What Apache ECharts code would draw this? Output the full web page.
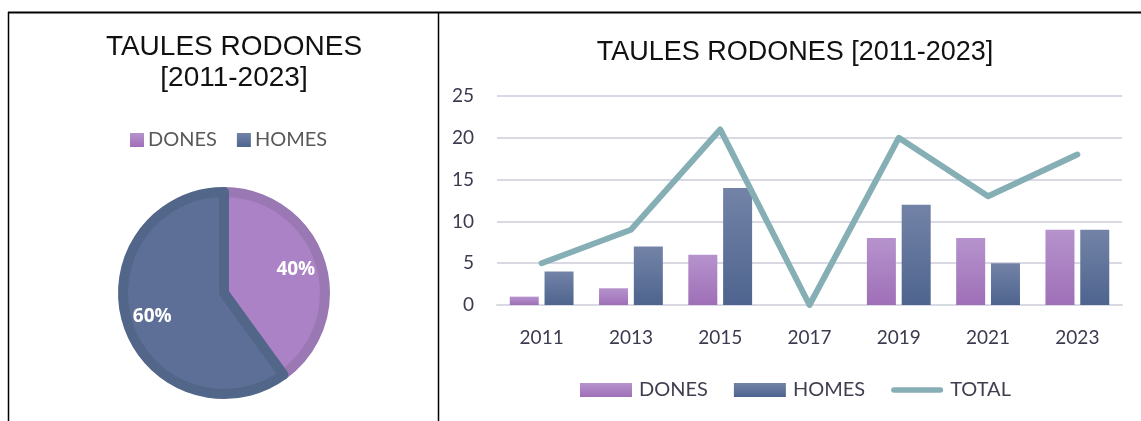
<!DOCTYPE html>
<html>
<head>
<meta charset="utf-8">
<script src="https://cdn.jsdelivr.net/npm/echarts@6/dist/echarts.min.js"></script>
<style>
html,body{margin:0;padding:0;background:#fff;}
#c{width:1141px;height:421px;}
</style>
</head>
<body>
<div id="c"></div>
<script>
const years = ['2011', '2013', '2015', '2017', '2019', '2021', '2023'];
const dones = [1, 2, 6, 0, 8, 8, 9];
const homes = [4, 7, 14, 0, 12, 5, 9];
const total = [5, 9, 21, 0, 20, 13, 18];
const pieNames = ['DONES', 'HOMES'];
const pieValues = [34, 51];
const yTicks = { min: 0, max: 25, interval: 5 };

const chart = echarts.init(document.getElementById('c'));
const axisFont = 'Lato, "Noto Sans", sans-serif';
const pieData = pieNames.map((n, i) => ({ name: n, value: pieValues[i] }));
const pieColors = [
  { fill: '#ab82c5', border: '#9a78b3' },
  { fill: '#5d6f96', border: '#52668a' }
];
const lineColor = '#86aeb5';

chart.setOption({
  animation: false,
  title: [
    {
      text: 'TAULES RODONES\n[2011-2023]',
      left: 229, top: 27, textAlign: 'center',
      textStyle: { fontFamily: '"Liberation Sans", Arial', fontSize: 28, fontWeight: 'normal', color: '#111', lineHeight: 31 }
    },
    {
      text: 'TAULES RODONES [2011-2023]',
      left: 790, top: 34, textAlign: 'center',
      textStyle: { fontFamily: '"Liberation Sans", Arial', fontSize: 27, fontWeight: 'normal', color: '#111' }
    }
  ],
  legend: [
    {
      seriesIndex: [0],
      data: pieNames,
      left: 125, top: 125, orient: 'horizontal',
      itemWidth: 14, itemHeight: 14, itemGap: 20,
      icon: 'rect',
      textStyle: { fontFamily: axisFont, fontSize: 20, color: '#595959', padding: [0, 0, 0, -1] }
    },
    {
      data: [
        { name: 'DONES', icon: 'rect' },
        { name: 'HOMES', icon: 'rect' },
        { name: 'TOTAL', icon: 'path://M3,0 L53,0 A3,3 0 0 1 53,6 L3,6 A3,3 0 0 1 3,0 Z', itemStyle: { color: lineColor } }
      ],
      left: 575, top: 375,
      itemWidth: 52, itemHeight: 14, itemGap: 26,
      textStyle: { fontFamily: axisFont, fontSize: 20, color: '#3f3f50', padding: [0, 0, 0, 2] }
    }
  ],
  grid: { left: 497, right: 19, top: 96, bottom: 116 },
  xAxis: {
    type: 'category',
    data: years,
    axisLine: { show: true, lineStyle: { color: '#d9d9e3', width: 2 } },
    axisTick: { show: false },
    axisLabel: { fontFamily: axisFont, fontSize: 19, color: '#3b3b4f', margin: 23 }
  },
  yAxis: {
    type: 'value',
    min: yTicks.min, max: yTicks.max, interval: yTicks.interval,
    axisLine: { show: false },
    axisTick: { show: false },
    splitLine: { lineStyle: { color: '#d9d9e3', width: 2 } },
    axisLabel: { fontFamily: axisFont, fontSize: 19, color: '#3b3b4f', margin: 23 }
  },
  series: [
    {
      type: 'pie',
      name: 'pie',
      center: [224, 293],
      radius: [0, 101],
      startAngle: 90,
      clockwise: true,
      silent: true,
      data: pieData.map((d, i) => ({
        name: d.name, value: d.value,
        itemStyle: { color: pieColors[i].fill, borderColor: pieColors[i].border, borderWidth: 10 }
      })),
      label: { show: false },
      labelLine: { show: false }
    },
    {
      type: 'pie',
      name: 'pieLabels',
      center: [224, 293],
      radius: [44, 101],
      startAngle: 90,
      clockwise: true,
      silent: true,
      data: pieData.map(d => ({ name: d.name + ' ', value: d.value })),
      itemStyle: { color: 'rgba(0,0,0,0)', borderWidth: 0 },
      label: {
        show: true, position: 'inside',
        formatter: p => Math.round(p.percent) + '%',
        color: '#fff', fontFamily: '"Open Sans", sans-serif', fontWeight: 'bold', fontSize: 19
      },
      labelLine: { show: false }
    },
    {
      type: 'bar',
      name: 'DONES',
      data: dones,
      barWidth: 29,
      barGap: '20%',
      itemStyle: {
        color: new echarts.graphic.LinearGradient(0, 0, 0, 1, [
          { offset: 0, color: '#b693cd' }, { offset: 1, color: '#9f6fb7' }
        ])
      }
    },
    {
      type: 'bar',
      name: 'HOMES',
      data: homes,
      barWidth: 29,
      barGap: '20%',
      itemStyle: {
        color: new echarts.graphic.LinearGradient(0, 0, 0, 1, [
          { offset: 0, color: '#7383a7' }, { offset: 1, color: '#4e648e' }
        ])
      }
    },
    {
      type: 'line',
      name: 'TOTAL',
      data: total,
      symbol: 'none',
      color: lineColor,
      lineStyle: { color: lineColor, width: 6, cap: 'round', join: 'round' }
    }
  ],
  graphic: [
    { type: 'line', shape: { x1: 8, y1: 12.5, x2: 1141, y2: 12.5 }, style: { stroke: '#000', lineWidth: 2 } },
    { type: 'line', shape: { x1: 8.5, y1: 12, x2: 8.5, y2: 421 }, style: { stroke: '#000', lineWidth: 1.5 } },
    { type: 'line', shape: { x1: 438.5, y1: 12, x2: 438.5, y2: 421 }, style: { stroke: '#000', lineWidth: 1.5 } }
  ]
});
</script>
</body>
</html>
